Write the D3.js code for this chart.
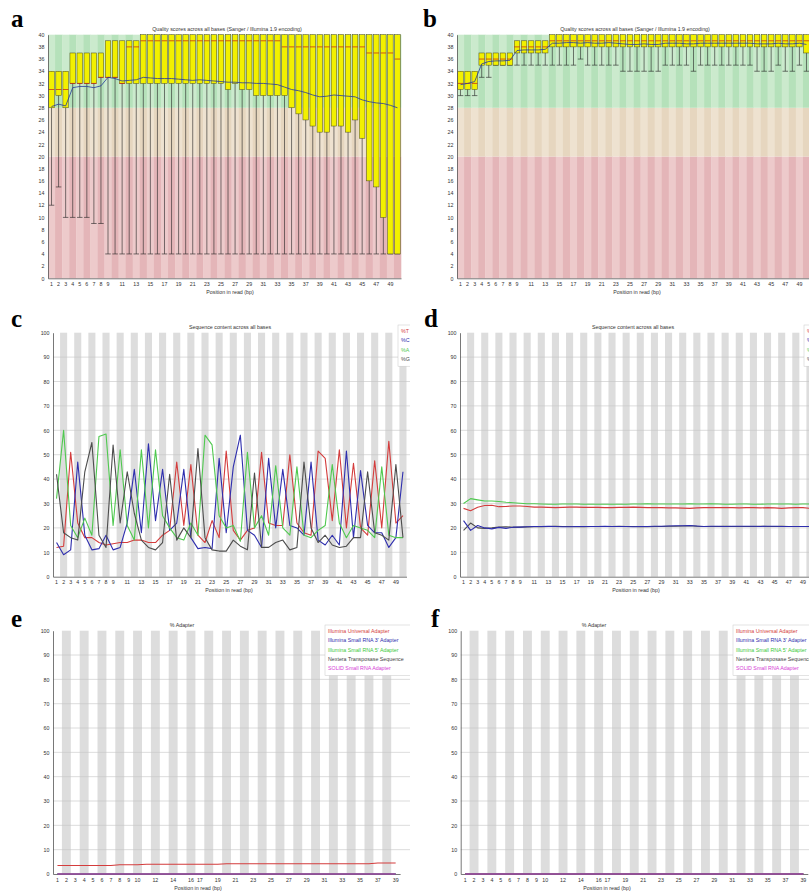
<!DOCTYPE html>
<html>
<head>
<meta charset="utf-8">
<script src="https://cdn.jsdelivr.net/npm/d3@7"></script>
<style>
    body { margin: 0; background: #fff; }
    svg text { font-family: "Liberation Sans", Arial, sans-serif; }
    .tiny { font-size: 5.3px; fill: #333; }
    .letter { font-family: "Liberation Serif", "Times New Roman", serif; font-weight: bold; font-size: 25px; fill: #000; }
</style>
</head>
<body>
<svg id="fig" width="809" height="891"></svg>
<script>
// ---- categories / ticks
var qualPositions = [1, 2, 3, 4, 5, 6, 7, 8, 9, 10, 11, 12, 13, 14, 15, 16, 17, 18, 19, 20, 21, 22, 23, 24, 25,
    26, 27, 28, 29, 30, 31, 32, 33, 34, 35, 36, 37, 38, 39, 40, 41, 42, 43, 44, 45, 46, 47, 48, 49, 50];
var qualXTicks = [1, 2, 3, 4, 5, 6, 7, 8, 9, 11, 13, 15, 17, 19, 21, 23, 25, 27, 29, 31, 33, 35, 37, 39, 41, 43, 45, 47, 49];
var qualYTicks = [0, 2, 4, 6, 8, 10, 12, 14, 16, 18, 20, 22, 24, 26, 28, 30, 32, 34, 36, 38, 40];
var pctYTicks = [0, 10, 20, 30, 40, 50, 60, 70, 80, 90, 100];
var adapterPositions = [1, 2, 3, 4, 5, 6, 7, 8, 9, 10, 11, 12, 13, 14, 15, 16, 17, 18, 19, 20,
    21, 22, 23, 24, 25, 26, 27, 28, 29, 30, 31, 32, 33, 34, 35, 36, 37, 38, 39];
var adapterXTicks = [1, 2, 3, 4, 5, 6, 7, 8, 9, 10, 12, 14, 16, 17, 19, 21, 23, 25, 27, 29, 31, 33, 35, 37, 39];

// ---- panel a : per base quality (raw)
var aLow = [12, 15, 10, 10, 10, 10, 9, 9, 4, 4, 4, 4, 4, 4, 4, 4, 4, 4, 4, 4, 4, 4, 4, 4, 4,
    4, 4, 4, 4, 4, 4, 4, 4, 4, 4, 4, 4, 4, 4, 4, 4, 4, 4, 4, 4, 4, 4, 4, 4, 4];
var aQ1 = [28, 30, 28, 32, 32, 32, 32, 33, 33, 33, 32, 32, 32, 32, 32, 32, 32, 32, 32, 32, 32, 32, 32, 32, 32,
    31, 32, 31, 31, 30, 30, 30, 30, 30, 28, 27, 26, 25, 24, 24, 25, 25, 24, 26, 23, 16, 15, 10, 4, 4];
var aMedian = [31, 31, 31, 32, 32, 32, 32, 33, 33, 33, 32, 38, 38, 39, 39, 39, 39, 39, 39, 39, 39, 39, 39, 39, 39,
    39, 39, 39, 39, 39, 39, 39, 39, 38, 38, 38, 38, 38, 38, 38, 38, 38, 38, 38, 38, 37, 37, 37, 37, 36];
var aQ3 = [34, 34, 34, 37, 37, 37, 37, 37, 39, 39, 39, 39, 39, 40, 40, 40, 40, 40, 40, 40, 40, 40, 40, 40, 40,
    40, 40, 40, 40, 40, 40, 40, 40, 40, 40, 40, 40, 40, 40, 40, 40, 40, 40, 40, 40, 40, 40, 40, 40, 40];
var aHigh = [34, 34, 34, 37, 37, 37, 37, 37, 39, 39, 39, 39, 39, 40, 40, 40, 40, 40, 40, 40, 40, 40, 40, 40, 40,
    40, 40, 40, 40, 40, 40, 40, 40, 40, 40, 40, 40, 40, 40, 40, 40, 40, 40, 40, 40, 40, 40, 40, 40, 40];
var aMean = [28.2, 28.6, 28.3, 31.3, 31.5, 31.5, 31.3, 31.6, 33.0, 32.8, 32.4, 32.5, 32.6, 33.0, 32.9, 32.8, 32.8,
    32.8, 32.7, 32.6, 32.5, 32.6, 32.5, 32.4, 32.3, 32.2, 32.2, 32.1, 32.1, 32.0, 32.0, 31.9, 31.8, 31.4,
    31.0, 30.8, 30.5, 30.1, 29.8, 29.9, 30.1, 30.0, 29.9, 29.8, 29.3, 29.0, 28.8, 28.7, 28.4, 28.0];

// ---- panel b : per base quality (clean)
var bLow = [30, 30, 30, 33, 33, 35, 35, 35, 35, 35, 35, 35, 35, 35, 35, 35, 35, 36, 35, 35, 35, 35, 35, 34, 34,
    34, 34, 34, 34, 35, 35, 35, 35, 34, 35, 35, 35, 35, 35, 35, 35, 35, 34, 34, 34, 35, 34, 34, 35, 34];
var bQ1 = [31, 31, 31, 35, 35, 35, 35, 35, 37, 37, 37, 37, 37, 38, 38, 38, 38, 38, 38, 38, 38, 38, 38, 38, 38,
    38, 38, 38, 38, 38, 38, 38, 38, 38, 38, 38, 38, 38, 38, 38, 38, 38, 38, 38, 38, 38, 38, 38, 38, 37];
var bMedian = [32, 32, 32, 36, 36, 36, 36, 36, 38, 38, 38, 38, 38, 39, 39, 39, 39, 39, 39, 39, 39, 39, 39, 39, 39,
    39, 39, 39, 39, 39, 39, 39, 39, 39, 39, 39, 39, 39, 39, 39, 39, 39, 39, 39, 39, 39, 39, 39, 39, 39];
var bQ3 = [34, 34, 34, 37, 37, 37, 37, 37, 39, 39, 39, 39, 39, 40, 40, 40, 40, 40, 40, 40, 40, 40, 40, 40, 40,
    40, 40, 40, 40, 40, 40, 40, 40, 40, 40, 40, 40, 40, 40, 40, 40, 40, 40, 40, 40, 40, 40, 40, 40, 40];
var bHigh = [34, 34, 34, 37, 37, 37, 37, 37, 39, 39, 39, 39, 39, 40, 40, 40, 40, 40, 40, 40, 40, 40, 40, 40, 40,
    40, 40, 40, 40, 40, 40, 40, 40, 40, 40, 40, 40, 40, 40, 40, 40, 40, 40, 40, 40, 40, 40, 40, 40, 40];
var bMean = [31.8, 32.0, 32.3, 35.2, 35.6, 35.7, 35.7, 35.8, 37.4, 37.5, 37.5, 37.5, 37.6, 38.6, 38.6, 38.7, 38.7,
    38.6, 38.7, 38.6, 38.6, 38.7, 38.6, 38.5, 38.4, 38.4, 38.5, 38.4, 38.4, 38.6, 38.6, 38.6, 38.5, 38.5,
    38.6, 38.6, 38.6, 38.6, 38.6, 38.6, 38.6, 38.6, 38.5, 38.5, 38.5, 38.6, 38.5, 38.5, 38.6, 38.4];

// ---- panel c : sequence content (raw)
var cT = [12, 12.5, 51, 22, 16, 16, 14, 13, 13.5, 14, 14, 15, 15, 14, 14, 17, 19, 47, 21, 46, 17, 14, 23, 16, 51.5,
    19, 15, 19, 20, 51, 22, 21, 21, 50, 22, 18, 17, 51.5, 48.5, 23, 52, 20, 46.5, 20, 17, 47.5, 20, 55.5, 22, 25];
var cC = [14, 9, 11, 47, 17, 11, 11.5, 17, 11, 12, 22, 44, 18, 54.5, 23, 44, 19, 22, 44, 16, 11.5, 12, 11.5, 48.5, 18,
    45, 58, 19, 17, 12, 48.5, 20, 44, 21, 20, 17, 47, 15, 13, 17, 13, 51.5, 16, 43.5, 21, 18, 18, 12, 16, 43];
var cA = [32, 60, 21, 16, 24, 17, 57.5, 58.5, 21, 52, 21, 15, 52, 20, 52, 25, 20, 16, 15, 22, 17, 58, 54, 25, 20,
    21, 14.5, 51, 20, 25, 17, 45.5, 20, 17, 45, 17, 16, 19, 21, 46, 22, 16, 21, 20, 19, 16, 45, 17, 16, 16];
var cG = [42, 18, 16, 15, 43, 55, 17, 12, 54, 22, 43, 26, 15, 12, 11, 14, 42, 15, 20, 16, 52.5, 16, 11, 10.5, 10.5,
    15, 12.5, 11, 42.5, 12, 12, 14, 15, 11, 12, 47, 20, 14, 17, 13, 12, 12.5, 16, 16, 43, 18, 17, 15, 46, 16];

// ---- panel d : sequence content (clean)
var dT = [28, 27, 28.5, 29.2, 29.3, 28.7, 28.8, 29, 29, 28.8, 28.5, 28.5, 28.4, 28.3, 28.4, 28.5, 28.5, 28.4, 28.4,
    28.4, 28.3, 28.3, 28.4, 28.4, 28.5, 28.4, 28.3, 28.3, 28.3, 28.2, 28.2, 28.1, 28.0, 28.2, 28.3, 28.3, 28.3,
    28.3, 28.3, 28.2, 28.3, 28.3, 28.2, 28.3, 28.2, 28.0, 28.2, 28.3, 28.3, 28.0];
var dC = [23, 19, 21, 20, 19.6, 20.2, 19.8, 20.3, 20.3, 20.5, 20.6, 20.6, 20.7, 20.6, 20.5, 20.5, 20.6, 20.6, 20.6,
    20.6, 20.7, 20.6, 20.6, 20.6, 20.5, 20.6, 20.6, 20.7, 20.7, 20.8, 20.9, 20.9, 21, 20.8, 20.6, 20.7, 20.7,
    20.6, 20.7, 20.7, 20.7, 20.7, 20.6, 20.7, 20.7, 20.6, 20.6, 20.6, 20.6, 20.6];
var dA = [30, 32, 31.5, 31, 31, 30.8, 30.5, 30.3, 30.1, 29.9, 29.9, 29.8, 29.7, 29.7, 29.8, 29.8, 29.8, 29.7, 29.7,
    29.7, 29.7, 29.7, 29.7, 29.7, 29.8, 29.8, 29.9, 29.8, 29.8, 29.8, 29.8, 29.8, 29.9, 29.8, 29.8, 29.9, 29.8,
    29.7, 29.7, 29.8, 29.8, 29.7, 29.7, 29.8, 29.8, 29.8, 29.8, 29.7, 29.8, 29.8];
var dG = [19, 22, 20, 19.8, 20, 20.3, 20.5, 20.2, 20.3, 20.4, 20.5, 20.5, 20.6, 20.7, 20.6, 20.6, 20.5, 20.5, 20.6,
    20.6, 20.6, 20.6, 20.7, 20.6, 20.6, 20.5, 20.5, 20.6, 20.6, 20.7, 20.7, 20.8, 20.9, 20.7, 20.6, 20.6, 20.6,
    20.7, 20.6, 20.6, 20.6, 20.6, 20.7, 20.6, 20.6, 20.7, 20.6, 20.6, 20.6, 20.6];

// ---- panels e, f : adapter content
var eUniversal = [3.5, 3.5, 3.5, 3.5, 3.5, 3.5, 3.5, 3.8, 3.8, 3.8, 4.0, 4.0, 4.0, 4.0, 4.0, 4.0, 4.0, 4.0, 4.0, 4.2,
    4.2, 4.2, 4.2, 4.2, 4.2, 4.2, 4.2, 4.2, 4.2, 4.2, 4.2, 4.2, 4.2, 4.2, 4.2, 4.2, 4.5, 4.5, 4.5];
var adapterZero = [0, 0, 0, 0, 0, 0, 0, 0, 0, 0, 0, 0, 0, 0, 0, 0, 0, 0, 0, 0,
    0, 0, 0, 0, 0, 0, 0, 0, 0, 0, 0, 0, 0, 0, 0, 0, 0, 0, 0];

var baseNames = ['%T', '%C', '%A', '%G'];
var adapterNames = ['Illumina Universal Adapter', 'Illumina Small RNA 3\' Adapter', 'Illumina Small RNA 5\' Adapter',
    'Nextera Transposase Sequence', 'SOLID Small RNA Adapter'];

(function () {

    var svg = d3.select('#fig'),
        defs = svg.append('defs');

    defs.append('clipPath').attr('id', 'clipL')
        .append('rect').attr('x', 0).attr('y', 0).attr('width', 410).attr('height', 891);
    defs.append('clipPath').attr('id', 'clipR')
        .append('rect').attr('x', 412).attr('y', 0).attr('width', 397).attr('height', 891);

    var red = '#d43c3c', blue = '#2e2eae', green = '#4fc94f', grey = '#4d4d4d',
        baseColors = [red, blue, green, grey],
        adapterColors = [red, blue, '#3cc93c', '#444444', '#d63cd6'];

    function Panel(opt) {
        this.opt = opt;
        this.$g = svg.append('g').attr('clip-path', 'url(#' + opt.clip + ')');
        this.x = d3.scaleBand()
            .domain(opt.positions)
            .range([opt.left, opt.left + opt.step * opt.positions.length]);
        this.y = d3.scaleLinear()
            .domain(opt.yDomain)
            .range([opt.top + opt.height, opt.top]);
    }

    Panel.prototype = {
        constructor: Panel,

        cx: function (p) {
            return this.x(p) + this.x.bandwidth() / 2;
        },

        qualityZones: function () {
            var self = this,
                zones = [
                    {from: 0, to: 20, light: '#edcacb', dark: '#e4b5b8'},
                    {from: 20, to: 28, light: '#eee2d0', dark: '#e6d6bf'},
                    {from: 28, to: 40, light: '#cbeacd', dark: '#b5e1ba'}
                ];
            zones.forEach(function (z) {
                self.$g.append('g').selectAll('rect')
                    .data(self.opt.positions)
                    .enter().append('rect')
                    .attr('x', function (p) { return self.x(p); })
                    .attr('width', self.x.bandwidth() + 0.3)
                    .attr('y', self.y(z.to))
                    .attr('height', self.y(z.from) - self.y(z.to))
                    .attr('fill', function (p) { return p % 2 ? z.light : z.dark; });
            });
            return this;
        },

        greyStripes: function (gridRight) {
            var self = this,
                top = this.y.range()[1],
                bottom = this.y.range()[0];

            this.$g.append('g').selectAll('rect')
                .data(this.opt.positions.filter(function (p) { return p % 2 === 0; }))
                .enter().append('rect')
                .attr('x', function (p) { return self.x(p); })
                .attr('width', this.x.bandwidth())
                .attr('y', top)
                .attr('height', bottom - top)
                .attr('fill', '#dddddd');

            this.$g.append('g').selectAll('line')
                .data(pctYTicks.filter(function (v) { return v > 0 && v < 100; }))
                .enter().append('line')
                .attr('x1', this.opt.left)
                .attr('x2', gridRight)
                .attr('y1', function (v) { return self.y(v); })
                .attr('y2', function (v) { return self.y(v); })
                .attr('stroke', '#c4c4c4')
                .attr('stroke-width', 0.6);
            return this;
        },

        boxes: function (low, q1, med, q3, high, mean) {
            var self = this,
                bw = this.x.bandwidth() * 0.78,
                $b = this.$g.append('g'),
                rows = this.opt.positions.map(function (p, i) {
                    return {p: p, low: low[i], q1: q1[i], med: med[i], q3: q3[i], high: high[i]};
                });

            $b.selectAll('line.whisker')
                .data(rows).enter().append('line')
                .attr('x1', function (d) { return self.cx(d.p); })
                .attr('x2', function (d) { return self.cx(d.p); })
                .attr('y1', function (d) { return self.y(d.low); })
                .attr('y2', function (d) { return self.y(d.high); })
                .attr('stroke', '#222').attr('stroke-width', 0.6);

            $b.selectAll('line.cap')
                .data(rows).enter().append('line')
                .attr('x1', function (d) { return self.cx(d.p) - bw / 2; })
                .attr('x2', function (d) { return self.cx(d.p) + bw / 2; })
                .attr('y1', function (d) { return self.y(d.low); })
                .attr('y2', function (d) { return self.y(d.low); })
                .attr('stroke', '#222').attr('stroke-width', 0.6);

            $b.selectAll('rect')
                .data(rows).enter().append('rect')
                .attr('x', function (d) { return self.cx(d.p) - bw / 2; })
                .attr('width', bw)
                .attr('y', function (d) { return self.y(d.q3); })
                .attr('height', function (d) { return self.y(d.q1) - self.y(d.q3); })
                .attr('fill', '#f2f000')
                .attr('stroke', '#4a4a20').attr('stroke-width', 0.5);

            $b.selectAll('line.median')
                .data(rows).enter().append('line')
                .attr('x1', function (d) { return self.cx(d.p) - bw / 2; })
                .attr('x2', function (d) { return self.cx(d.p) + bw / 2; })
                .attr('y1', function (d) { return self.y(d.med); })
                .attr('y2', function (d) { return self.y(d.med); })
                .attr('stroke', '#c21a1a').attr('stroke-width', 0.7);

            this.$g.append('path')
                .datum(mean)
                .attr('fill', 'none')
                .attr('stroke', '#26389a')
                .attr('stroke-width', 0.8)
                .attr('d', d3.line()
                    .x(function (v, i) { return self.cx(self.opt.positions[i]); })
                    .y(function (v) { return self.y(v); }));
            return this;
        },

        // series are drawn in the given order, last one on top
        lines: function (series, colors) {
            var self = this,
                line = d3.line()
                    .x(function (v, i) { return self.cx(self.opt.positions[i]); })
                    .y(function (v) { return self.y(v); });

            this.$g.append('g').selectAll('path')
                .data(series).enter().append('path')
                .attr('fill', 'none')
                .attr('stroke', function (s, i) { return colors[i]; })
                .attr('stroke-width', 1.1)
                .attr('stroke-linejoin', 'round')
                .attr('d', line);
            return this;
        },

        legend: function (x, y, w, names, colors) {
            var $l = this.$g.append('g');
            $l.append('rect')
                .attr('x', x).attr('y', y)
                .attr('width', w).attr('height', names.length * 9.3 + 4)
                .attr('fill', '#fff')
                .attr('stroke', '#c8c8c8').attr('stroke-width', 0.5);
            $l.selectAll('text')
                .data(names).enter().append('text')
                .attr('class', 'tiny')
                .attr('x', x + 3)
                .attr('y', function (n, i) { return y + 8 + i * 9.3; })
                .style('fill', function (n, i) { return colors[i]; })
                .text(function (n) { return n; });
            return this;
        },

        axes: function (yTicks, xTicks) {
            var o = this.opt,
                bottom = this.y.range()[0],
                $ya = this.$g.append('g')
                    .attr('transform', 'translate(' + o.left + ',0)')
                    .call(d3.axisLeft(this.y).tickValues(yTicks).tickSize(0).tickPadding(3.5)),
                $xa = this.$g.append('g')
                    .attr('transform', 'translate(0,' + bottom + ')')
                    .call(d3.axisBottom(this.x).tickValues(xTicks).tickSize(0).tickPadding(4));

            [$ya, $xa].forEach(function ($a) {
                $a.attr('font-size', 5.3).attr('font-family', '"Liberation Sans", Arial, sans-serif');
                $a.selectAll('text').attr('fill', '#333');
                $a.select('.domain').attr('stroke', '#555').attr('stroke-width', 0.8);
            });

            this.$g.append('text')
                .attr('class', 'tiny')
                .attr('x', o.titleX).attr('y', o.top - 4)
                .attr('text-anchor', 'middle')
                .text(o.title);

            this.$g.append('text')
                .attr('class', 'tiny')
                .attr('x', o.xTitleX).attr('y', bottom + 15.5)
                .attr('text-anchor', 'middle')
                .text('Position in read (bp)');

            svg.append('text')
                .attr('class', 'letter')
                .attr('x', o.letterX).attr('y', o.letterY)
                .text(o.letter);
            return this;
        }
    };

    var qualTitle = 'Quality scores across all bases (Sanger / Illumina 1.9 encoding)',
        seqTitle = 'Sequence content across all bases';

    // a
    new Panel({clip: 'clipL', positions: qualPositions, left: 48, step: 7.06, top: 34.7, height: 243.6,
        yDomain: [0, 40], title: qualTitle, titleX: 227, xTitleX: 230, letter: 'a', letterX: 11, letterY: 27})
        .qualityZones()
        .boxes(aLow, aQ1, aMedian, aQ3, aHigh, aMean)
        .axes(qualYTicks, qualXTicks);

    // b
    new Panel({clip: 'clipR', positions: qualPositions, left: 457, step: 7.06, top: 34.7, height: 243.6,
        yDomain: [0, 40], title: qualTitle, titleX: 635, xTitleX: 637, letter: 'b', letterX: 423, letterY: 27})
        .qualityZones()
        .boxes(bLow, bQ1, bMedian, bQ3, bHigh, bMean)
        .axes(qualYTicks, qualXTicks);

    // c
    new Panel({clip: 'clipL', positions: qualPositions, left: 53, step: 7.07, top: 332.7, height: 244,
        yDomain: [0, 100], title: seqTitle, titleX: 230, xTitleX: 229, letter: 'c', letterX: 11, letterY: 327})
        .greyStripes(410)
        .axes(pctYTicks, qualXTicks)
        .lines([cT, cC, cA, cG], baseColors)
        .legend(398, 325, 30, baseNames, baseColors);

    // d  (G drawn under C so the blue trace stays visible)
    new Panel({clip: 'clipR', positions: qualPositions, left: 460, step: 7.07, top: 332.7, height: 244,
        yDomain: [0, 100], title: seqTitle, titleX: 633, xTitleX: 636, letter: 'd', letterX: 424, letterY: 327})
        .greyStripes(809)
        .axes(pctYTicks, qualXTicks)
        .lines([dG, dT, dA, dC], [grey, red, green, blue])
        .legend(804, 325, 30, baseNames, baseColors);

    // e
    new Panel({clip: 'clipL', positions: adapterPositions, left: 53, step: 8.9, top: 630.7, height: 243.3,
        yDomain: [0, 100], title: '% Adapter', titleX: 182, xTitleX: 198, letter: 'e', letterX: 11, letterY: 627})
        .greyStripes(410)
        .axes(pctYTicks, adapterXTicks)
        .lines([eUniversal, adapterZero, adapterZero, adapterZero, adapterZero], adapterColors)
        .legend(325, 625, 95, adapterNames, adapterColors);

    // f
    new Panel({clip: 'clipR', positions: adapterPositions, left: 460.7, step: 8.9, top: 630.7, height: 243.3,
        yDomain: [0, 100], title: '% Adapter', titleX: 594, xTitleX: 607, letter: 'f', letterX: 431, letterY: 627})
        .greyStripes(809)
        .axes(pctYTicks, adapterXTicks)
        .lines([adapterZero, adapterZero, adapterZero, adapterZero, adapterZero], adapterColors)
        .legend(733, 625, 95, adapterNames, adapterColors);

})();
</script>
</body>
</html>
